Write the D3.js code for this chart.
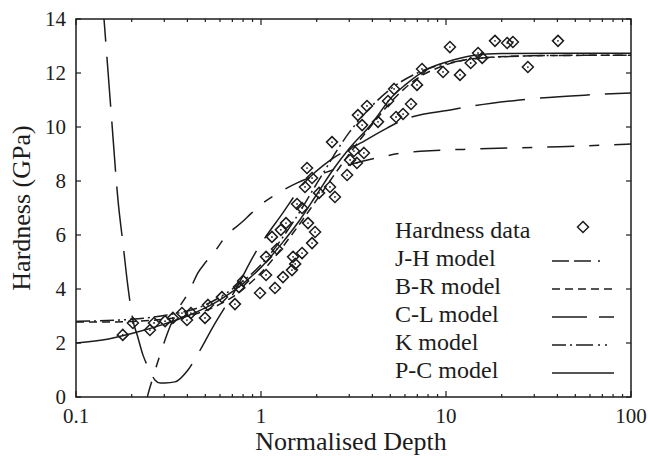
<!DOCTYPE html>
<html>
<head>
<meta charset="utf-8">
<script src="https://cdn.jsdelivr.net/npm/d3@7"></script>
<style>
  html, body { margin: 0; padding: 0; background: #ffffff; }
  svg { display: block; }
  text { font-family: "Liberation Serif", "Times New Roman", serif; fill: #1c1c1c; }
</style>
</head>
<body>
<svg id="chart" width="648" height="456"></svg>
<script>
// Measured hardness versus normalised indentation depth
const depth = [0.179, 0.203, 0.251, 0.264, 0.303, 0.334, 0.374, 0.398, 0.418, 0.498,
  0.517, 0.615, 0.723, 0.760, 0.800, 0.988, 1.065, 1.19, 1.065, 1.22,
  1.146, 1.28, 1.365, 1.315, 1.47, 1.53, 1.49, 1.667, 1.566, 1.667,
  1.795, 1.96, 1.888, 1.773, 1.888, 1.729, 2.06, 2.36, 2.51, 2.42,
  2.92, 3.03, 3.30, 3.60, 3.18, 3.34, 3.74, 3.52, 4.29, 4.86,
  5.24, 5.37, 5.86, 6.47, 6.97, 7.42, 9.64, 10.5, 11.9, 13.6,
  14.9, 15.7, 18.4, 21.4, 23.0, 27.7, 40.3];
const hardness = [2.30, 2.74, 2.48, 2.74, 2.81, 2.93, 3.11, 2.85, 3.11, 2.93,
  3.41, 3.70, 3.44, 4.07, 4.30, 3.85, 4.52, 4.04, 5.19, 5.48,
  5.93, 6.19, 6.44, 4.44, 4.70, 4.93, 5.19, 5.33, 7.15, 7.00,
  6.44, 6.11, 5.70, 8.48, 8.11, 7.78, 7.56, 7.78, 7.41, 9.44,
  8.22, 8.78, 8.67, 9.04, 9.11, 10.44, 10.78, 10.07, 10.19, 10.96,
  11.41, 10.37, 10.48, 10.85, 11.56, 12.15, 12.04, 12.96, 11.93, 12.37,
  12.74, 12.56, 13.19, 13.11, 13.15, 12.22, 13.19];

// Model curves: [depth, hardness] samples
const jhDepth = [0.236, 0.243, 0.26, 0.288, 0.322, 0.36, 0.408, 0.456, 0.498, 0.55, 0.647, 0.79, 0.885, 0.99, 1.236, 1.57, 2.2, 3.0, 4.2, 5.86, 7.3, 15.3, 41, 100];
const jhH     = [-0.4, 0.0, 0.7, 1.67, 2.6, 3.3, 3.9, 4.6, 4.96, 5.3, 5.96, 6.48, 6.8, 7.1, 7.55, 7.93, 8.3, 8.6, 8.85, 9.04, 9.1, 9.19, 9.27, 9.37];

const brDepth = [0.1, 0.15, 0.2, 0.3, 0.4, 0.5, 0.7, 1.0, 1.5, 2.0, 3.0, 4.0, 5.0, 7.0, 10, 15, 30, 100];
const brH     = [2.78, 2.78, 2.8, 2.88, 3.0, 3.2, 3.7, 4.6, 6.1, 7.3, 9.0, 10.1, 10.9, 11.8, 12.3, 12.55, 12.64, 12.66];

const clDepth = [0.138, 0.1417, 0.155, 0.1686, 0.18, 0.191, 0.203, 0.215, 0.23, 0.25, 0.267, 0.285, 0.303, 0.343, 0.403, 0.47, 0.55, 0.726, 0.93, 1.31, 1.7, 2.4, 3.44, 4.8, 5.86, 10.9, 13.2, 25, 56, 100];
const clH     = [15.0, 14.0, 10.5, 7.3, 5.6, 4.07, 2.85, 2.26, 1.56, 1.0, 0.63, 0.52, 0.52, 0.56, 1.0, 1.75, 2.6, 3.96, 5.33, 6.81, 7.9, 8.8, 9.4, 9.96, 10.26, 10.65, 10.75, 11.0, 11.18, 11.26];

const kDepth  = [0.1, 0.2, 0.3, 0.5, 0.7, 1.0, 1.5, 2.0, 3.0, 4.0, 5.0, 7.0, 10, 20, 40, 100];
const kH      = [2.8, 2.88, 3.02, 3.41, 4.0, 4.9, 6.5, 7.9, 9.8, 10.8, 11.4, 12.0, 12.35, 12.6, 12.65, 12.66];

const pcDepth = [0.1, 0.15, 0.2, 0.3, 0.4, 0.5, 0.6, 0.8, 1.0, 1.3, 1.6, 2.0, 2.5, 3.0, 4.0, 5.0, 6.0, 8.0, 10, 14, 20, 40, 100];
const pcH     = [2.0, 2.15, 2.35, 2.7, 3.0, 3.3, 3.6, 4.2, 4.8, 5.7, 6.5, 7.5, 8.5, 9.2, 10.15, 11.05, 11.55, 12.15, 12.4, 12.65, 12.72, 12.73, 12.73];

const xTicks = [0.1, 1, 10, 100];
const xTickLabels = ["0.1", "1", "10", "100"];
const yTicks = [0, 2, 4, 6, 8, 10, 12, 14];

const legendLabels = ["Hardness data", "J-H model", "B-R model", "C-L model", "K model", "P-C model"];

const ink = "#1c1c1c";
const plotL = 76, plotR = 631, plotT = 19, plotB = 397;

const svg = d3.select("#chart");
const x = d3.scaleLog().domain([0.1, 100]).range([plotL, plotR]);
const y = d3.scaleLinear().domain([0, 14]).range([plotB, plotT]);

svg.append("defs").append("clipPath").attr("id", "plot-area")
  .append("rect").attr("x", plotL).attr("y", plotT)
  .attr("width", plotR - plotL).attr("height", plotB - plotT);

// Axis ticks (inward on all four sides)
const tickG = svg.append("g").attr("stroke", ink).attr("stroke-width", 1.2);
const minor = [];
[0.1, 1, 10].forEach(d => { for (let m = 2; m <= 9; m++) minor.push(d * m); });
xTicks.forEach(t => {
  tickG.append("line").attr("x1", x(t)).attr("x2", x(t)).attr("y1", plotB).attr("y2", plotB - 6);
  tickG.append("line").attr("x1", x(t)).attr("x2", x(t)).attr("y1", plotT).attr("y2", plotT + 6);
});
minor.forEach(t => {
  tickG.append("line").attr("x1", x(t)).attr("x2", x(t)).attr("y1", plotB).attr("y2", plotB - 3);
  tickG.append("line").attr("x1", x(t)).attr("x2", x(t)).attr("y1", plotT).attr("y2", plotT + 3);
});
yTicks.forEach(t => {
  tickG.append("line").attr("x1", plotL).attr("x2", plotL + 5).attr("y1", y(t)).attr("y2", y(t));
  tickG.append("line").attr("x1", plotR).attr("x2", plotR - 5).attr("y1", y(t)).attr("y2", y(t));
});

// Tick labels
svg.append("g").selectAll("text").data(xTicks).join("text")
  .attr("x", d => x(d)).attr("y", 423)
  .attr("text-anchor", "middle").attr("font-size", 21)
  .text((d, i) => xTickLabels[i]);
svg.append("g").selectAll("text").data(yTicks).join("text")
  .attr("x", 66).attr("y", d => y(d) + 7)
  .attr("text-anchor", "end").attr("font-size", 21)
  .text(d => d);

// Axis titles
svg.append("text").attr("x", 351).attr("y", 450)
  .attr("text-anchor", "middle").attr("font-size", 26).text("Normalised Depth");
svg.append("text").attr("transform", "translate(30,208) rotate(-90)")
  .attr("text-anchor", "middle").attr("font-size", 26).text("Hardness (GPa)");

// Model curves
const line = d3.line().x(d => x(d[0])).y(d => y(d[1])).curve(d3.curveMonotoneX);
const models = [
  { xs: jhDepth, ys: jhH, dash: "27,15,10,15" },
  { xs: brDepth, ys: brH, dash: "8,5" },
  { xs: clDepth, ys: clH, dash: "50,15" },
  { xs: kDepth,  ys: kH,  dash: "14,4,2,4,14,4,2,4,2,4" },
  { xs: pcDepth, ys: pcH, dash: null }
];
const curveG = svg.append("g").attr("clip-path", "url(#plot-area)");
models.forEach(m => {
  curveG.append("path")
    .datum(m.xs.map((d, i) => [d, m.ys[i]]))
    .attr("d", line)
    .attr("fill", "none").attr("stroke", ink).attr("stroke-width", 1.5)
    .attr("stroke-dasharray", m.dash);
});

// Data markers (open diamonds)
const diamond = "M0,-5.5L5.5,0L0,5.5L-5.5,0Z";
const pts = svg.append("g").attr("clip-path", "url(#plot-area)");
depth.forEach((d, i) => {
  const g = pts.append("g").attr("transform", `translate(${x(d)},${y(hardness[i])})`);
  g.append("path").attr("d", diamond).attr("fill", "none").attr("stroke", ink).attr("stroke-width", 1.5);
  g.append("circle").attr("r", 0.9).attr("fill", ink);
});

// Frame
svg.append("rect").attr("x", plotL).attr("y", plotT)
  .attr("width", plotR - plotL).attr("height", plotB - plotT)
  .attr("fill", "none").attr("stroke", ink).attr("stroke-width", 1.5);

// Legend
const legendDash = [null, "17,5,17,7,2,20", "8,5", "35,12,17,20", "14,4,2,4,17,5,2,5,2,20", null];
const lg = svg.append("g");
legendLabels.forEach((label, i) => {
  const ty = 238 + i * 28;
  lg.append("text").attr("x", 395).attr("y", ty).attr("font-size", 24).text(label);
  if (i === 0) {
    lg.append("path").attr("d", diamond).attr("transform", `translate(583,${ty - 11})`)
      .attr("fill", "none").attr("stroke", ink).attr("stroke-width", 1.5);
  } else {
    lg.append("line").attr("x1", 552).attr("x2", 614).attr("y1", ty - 5).attr("y2", ty - 5)
      .attr("stroke", ink).attr("stroke-width", 1.5)
      .attr("stroke-dasharray", legendDash[i]);
  }
});
</script>
</body>
</html>
